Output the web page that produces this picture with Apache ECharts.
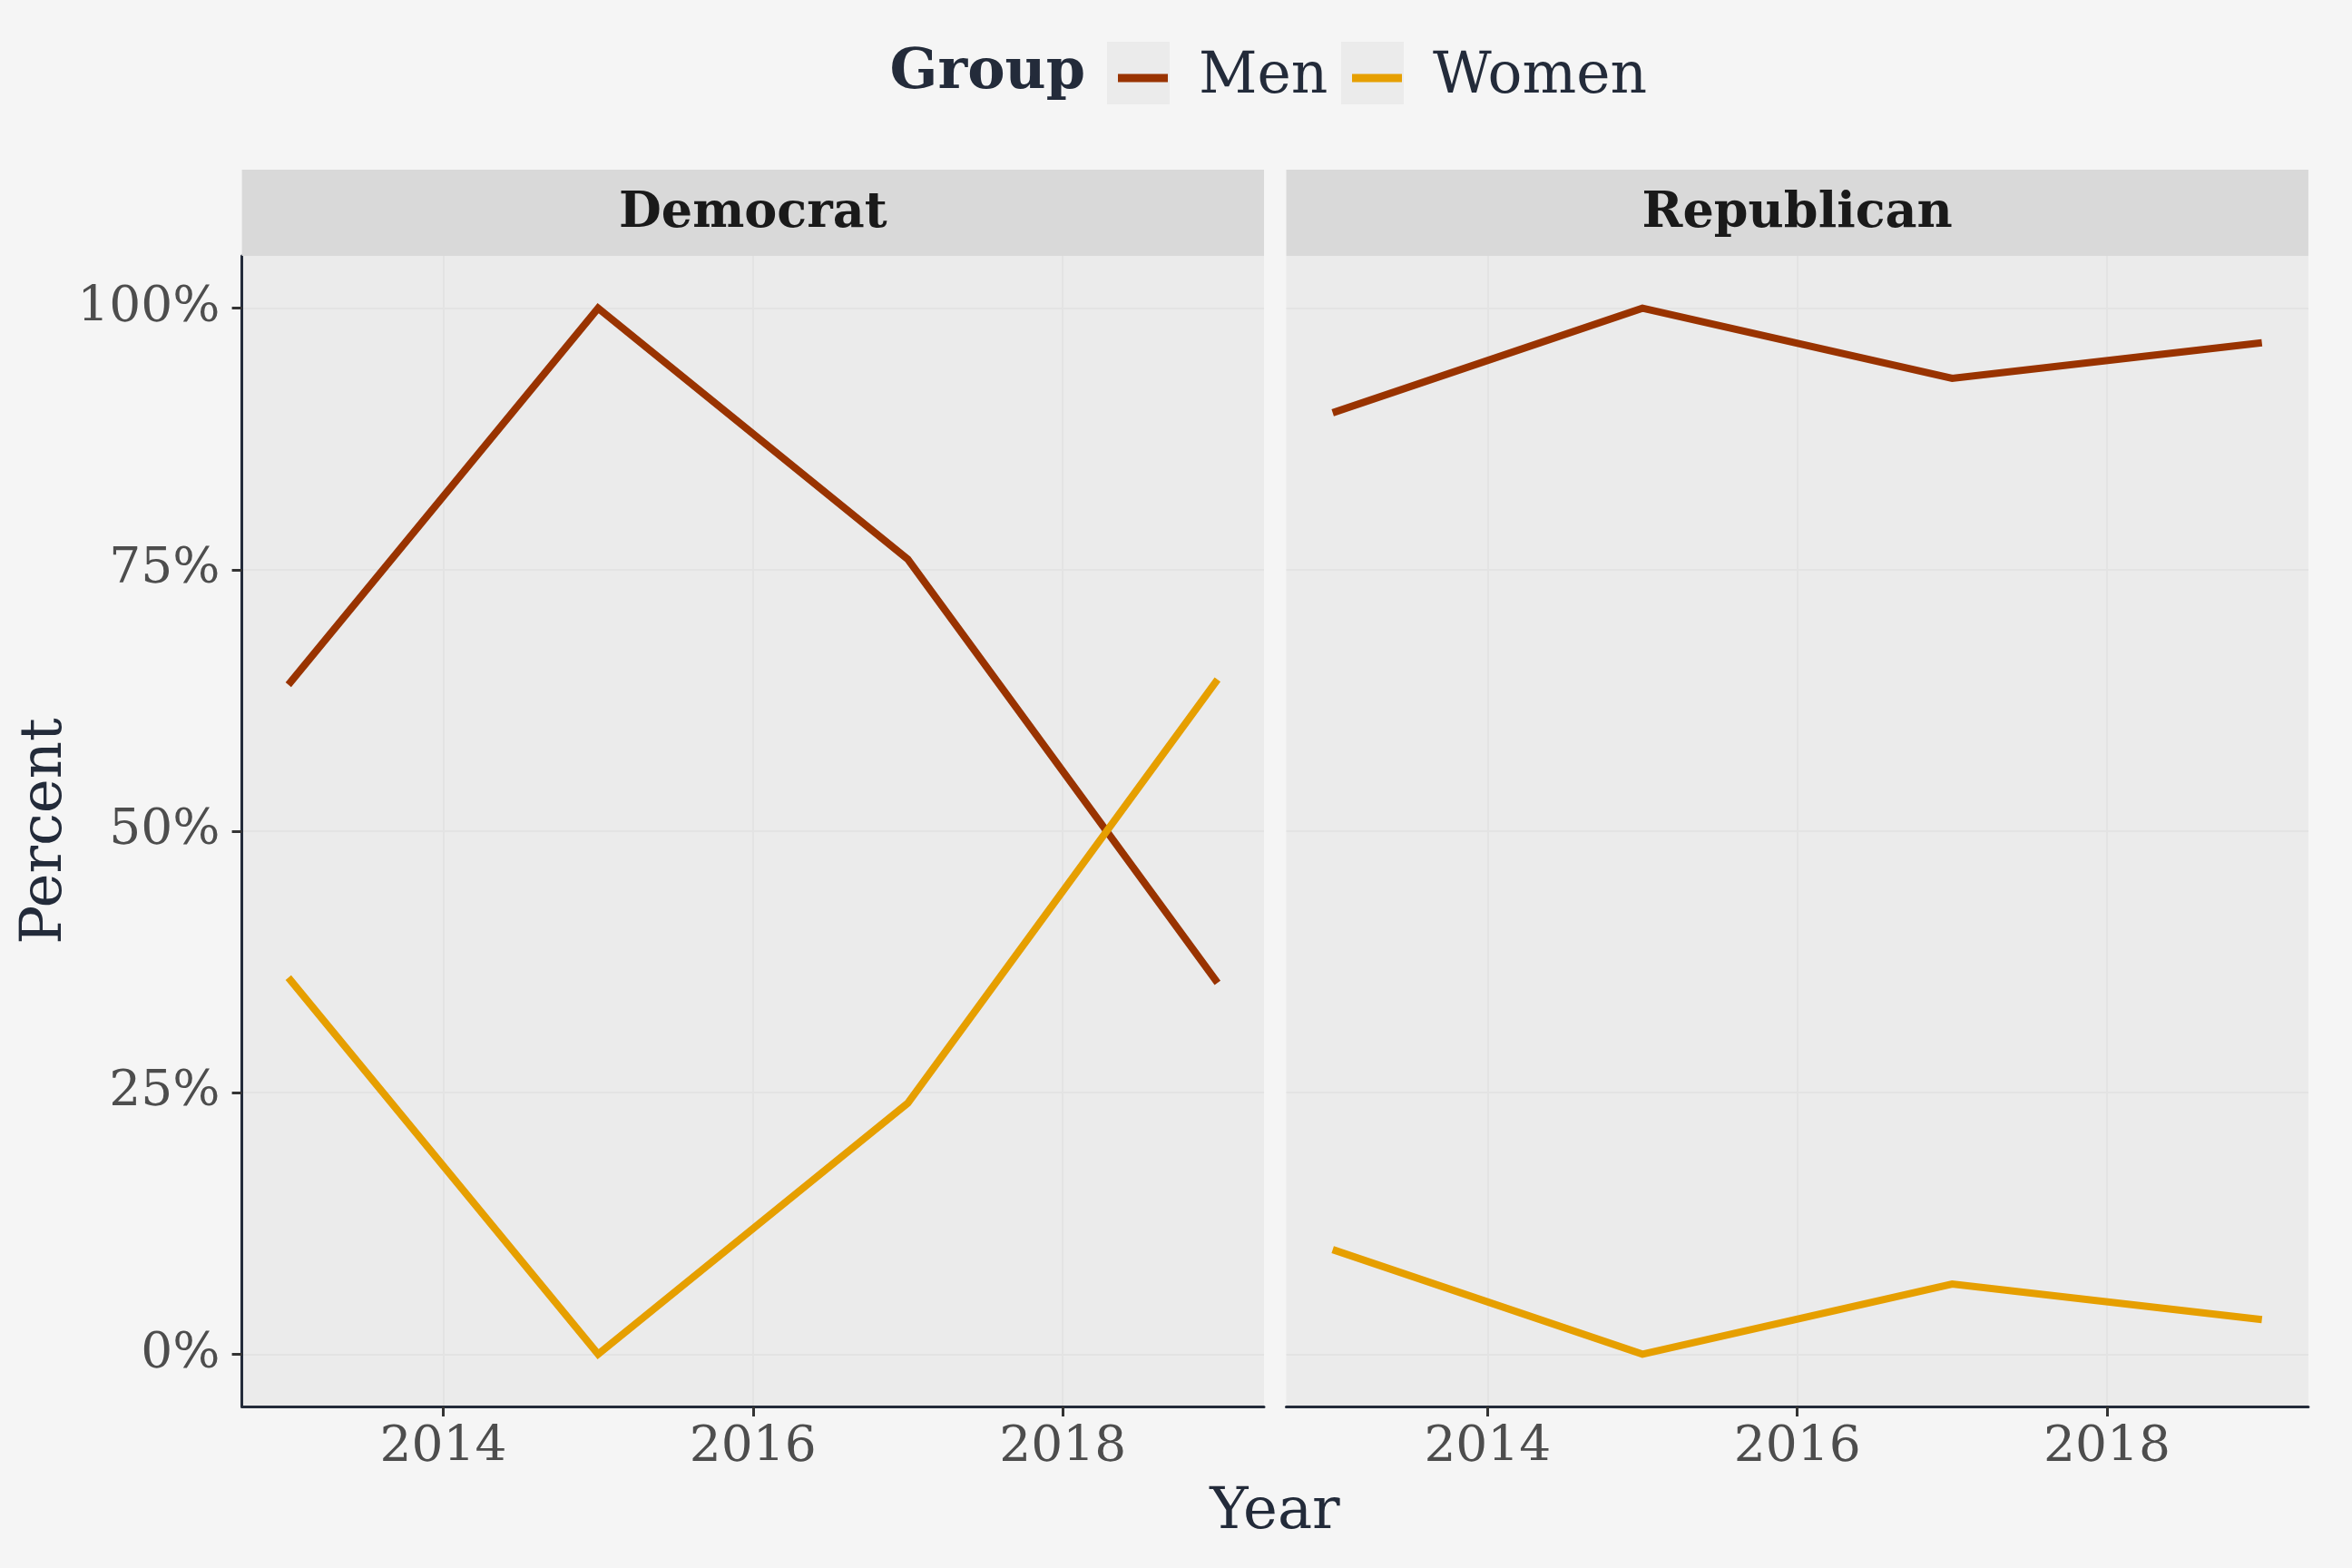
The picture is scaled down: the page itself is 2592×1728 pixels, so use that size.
<!DOCTYPE html>
<html>
<head>
<meta charset="utf-8">
<script src="https://cdn.jsdelivr.net/npm/echarts@6/dist/echarts.min.js"></script>
<style>
html,body{margin:0;padding:0;background:#F5F5F5;}
#chart{width:2592px;height:1728px;}
</style>
</head>
<body>
<div id="chart"></div>
<script>
const years = [2013, 2015, 2017, 2019];
const demMen = [64, 100, 76, 35.5];
const demWomen = [36, 0, 24, 64.5];
const repMen = [90, 100, 93.3, 96.7];
const repWomen = [10, 0, 6.7, 3.3];
const xTicks = [2014, 2016, 2018];
const yTicks = [0, 25, 50, 75, 100];
const panels = ['Democrat', 'Republican'];
const groups = ['Men', 'Women'];
const colors = {Men: '#993300', Women: '#E69F00'};

const FONT = 'DejaVu Serif';
const INK = '#232B3A';
const panelLeft = [266.6, 1417.5];
const panelW = 1126.4, panelTop = 282, panelH = 1268;

const pairs = (vals) => years.map((y, i) => [y, vals[i]]);
const seriesData = [
  {panel: 0, group: 'Men', vals: demMen},
  {panel: 0, group: 'Women', vals: demWomen},
  {panel: 1, group: 'Men', vals: repMen},
  {panel: 1, group: 'Women', vals: repWomen}
];

const grids = panelLeft.map(l => ({left: l, top: panelTop, width: panelW, height: panelH, backgroundColor: '#EBEBEB', show: true, borderWidth: 0, containLabel: false}));

const xAxes = panelLeft.map((l, i) => ({
  type: 'value', gridIndex: i, min: 2012.7, max: 2019.3,
  axisLine: {show: true, onZero: false, lineStyle: {color: INK, width: 3}},
  axisTick: {show: true, length: 11, lineStyle: {color: '#333333', width: 3}, customValues: xTicks},
  axisLabel: {show: true, customValues: xTicks, color: '#4D4D4D', fontFamily: FONT, fontSize: 55, margin: 18, formatter: v => String(v)},
  splitLine: {show: true, lineStyle: {color: '#E3E3E3', width: 2}},
  minorSplitLine: {show: false}
}));

const yAxes = panelLeft.map((l, i) => ({
  type: 'value', gridIndex: i, min: -5, max: 105,
  axisLine: {show: i === 0, onZero: false, lineStyle: {color: INK, width: 3}},
  axisTick: {show: i === 0, length: 11, lineStyle: {color: '#333333', width: 3}, customValues: yTicks},
  axisLabel: {show: i === 0, customValues: yTicks, color: '#4D4D4D', fontFamily: FONT, fontSize: 55, margin: 24, formatter: v => v + '%'},
  splitLine: {show: true, lineStyle: {color: '#E3E3E3', width: 2}}
}));

const series = seriesData.map(s => ({
  type: 'line', name: s.group, xAxisIndex: s.panel, yAxisIndex: s.panel,
  data: pairs(s.vals), symbol: 'none', showSymbol: false,
  lineStyle: {color: colors[s.group], width: 8, cap: 'butt', join: 'miter'},
  itemStyle: {color: colors[s.group]},
  emphasis: {disabled: true}, animation: false
}));

const graphics = [];
panels.forEach((p, i) => {
  graphics.push({type: 'rect', left: panelLeft[i], top: 187, shape: {width: panelW, height: 95}, style: {fill: '#D9D9D9'}, z: 1});
  graphics.push({type: 'text', x: panelLeft[i] + panelW / 2, y: 236, style: {text: p, font: 'bold 54px "' + FONT + '"', fill: '#1A1A1A', align: 'center', verticalAlign: 'middle'}, z: 2});
});
// legend key boxes
graphics.push({type: 'rect', left: 1220, top: 46, shape: {width: 69, height: 69}, style: {fill: '#EBEBEB'}, z: 0});
graphics.push({type: 'rect', left: 1478, top: 46, shape: {width: 69, height: 69}, style: {fill: '#EBEBEB'}, z: 0});
graphics.push({type: 'text', x: 1196, y: 81, style: {text: 'Group', font: 'bold 62px "' + FONT + '"', fill: INK, align: 'right', verticalAlign: 'middle'}, z: 2});
graphics.push({type: 'text', x: 1405, y: 1667, style: {text: 'Year', font: '64px "' + FONT + '"', fill: INK, align: 'center', verticalAlign: 'middle'}, z: 2});
graphics.push({type: 'text', x: 50, y: 916, rotation: Math.PI / 2, style: {text: 'Percent', font: '64px "' + FONT + '"', fill: INK, align: 'center', verticalAlign: 'middle'}, z: 2});

const legendBase = {
  orient: 'horizontal', top: 48, icon: 'rect', itemWidth: 55, itemHeight: 9,
  itemStyle: {borderWidth: 0},
  textStyle: {fontFamily: FONT, fontSize: 63, color: INK, lineHeight: 66, padding: [0, 0, 0, 29]},
  selectedMode: false
};

const option = {
  backgroundColor: '#F5F5F5',
  animation: false,
  grid: grids,
  xAxis: xAxes,
  yAxis: yAxes,
  legend: [
    Object.assign({}, legendBase, {left: 1227, data: [groups[0]]}),
    Object.assign({}, legendBase, {left: 1485, data: [groups[1]]})
  ],
  series: series,
  graphic: graphics
};

const chart = echarts.init(document.getElementById('chart'), null, {renderer: 'canvas'});
chart.setOption(option);
</script>
</body>
</html>
